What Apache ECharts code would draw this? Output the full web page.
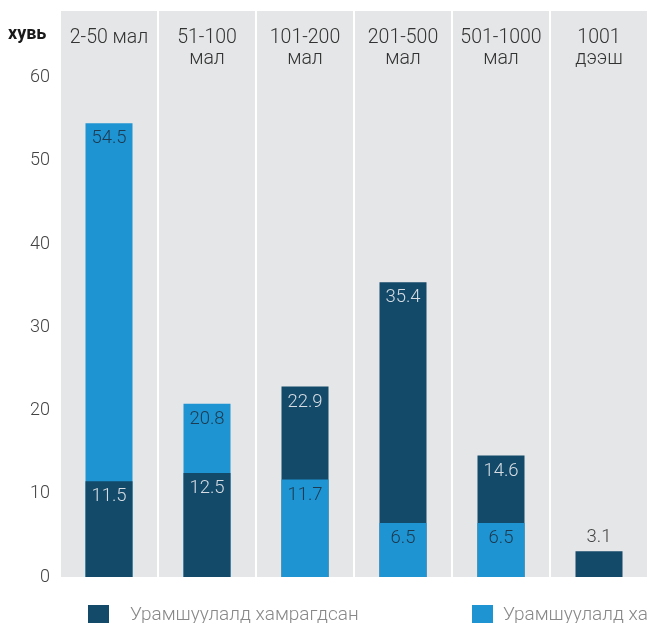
<!DOCTYPE html>
<html>
<head>
<meta charset="utf-8">
<script src="https://cdn.jsdelivr.net/npm/echarts@6/dist/echarts.min.js"></script>
<style>
html,body{margin:0;padding:0;background:#fff;}
#chart{width:648px;height:623px;}
</style>
</head>
<body>
<div id="chart"></div>
<script>
const categories = ['2-50 мал', '51-100\nмал', '101-200\nмал', '201-500\nмал', '501-1000\nмал', '1001\nдээш'];
const coveredName = 'Урамшуулалд хамрагдсан';
const notCoveredName = 'Урамшуулалд хамрагдаагүй';
const covered = [11.5, 12.5, 22.9, 35.4, 14.6, 3.1];
const notCovered = [54.5, 20.8, 11.7, 6.5, 6.5, null];
const yMin = 0, yMax = 68, yInterval = 10;

const DARK = '#134a6a';
const LIGHT = '#1e94d2';
const FONT = 'Roboto';

function mkItem(v, labelColor) {
  if (v === null || v === undefined) return '-';
  if (v < 5) {
    return { value: v, label: { position: 'top', color: '#444', distance: 4 } };
  }
  return { value: v, label: { color: labelColor } };
}

function split(own, other, back, labelColor) {
  return own.map((v, i) => {
    if (v === null) return '-';
    const o = other[i] === null ? 0 : other[i];
    const isBack = v >= o;
    return isBack === back ? mkItem(v, labelColor) : '-';
  });
}

function barSeries(name, color, data, labelColor) {
  return {
    name: name,
    type: 'bar',
    data: data,
    barWidth: 47,
    barGap: '-100%',
    itemStyle: { color: color },
    label: {
      show: true,
      position: 'insideTop',
      distance: 6,
      fontFamily: FONT,
      fontWeight: 300,
      fontSize: 18.5,
      color: labelColor
    },
    emphasis: { disabled: true }
  };
}

const chart = echarts.init(document.getElementById('chart'), null, { renderer: 'canvas' });
chart.setOption({
  animation: false,
  backgroundColor: '#ffffff',
  title: {
    text: 'хувь',
    left: 8,
    top: 25,
    padding: 0,
    textStyle: { fontFamily: FONT, fontWeight: 'bold', fontSize: 18, color: '#1a1a1a' }
  },
  grid: { left: 60, right: 0, top: 11, bottom: 46 },
  legend: [
    {
      data: [coveredName],
      left: 88, top: 605, padding: 0,
      icon: 'rect', itemWidth: 21, itemHeight: 21,
      selectedMode: false,
      textStyle: { fontFamily: FONT, fontWeight: 300, fontSize: 19, color: '#888', padding: [0, 0, 4, 16] }
    },
    {
      data: [notCoveredName],
      left: 472, top: 605, padding: 0,
      icon: 'rect', itemWidth: 21, itemHeight: 21,
      selectedMode: false,
      textStyle: { fontFamily: FONT, fontWeight: 300, fontSize: 19, color: '#888', padding: [0, 0, 4, 5] }
    }
  ],
  xAxis: {
    type: 'category',
    data: categories,
    position: 'top',
    axisLine: { show: false },
    axisTick: { show: false },
    axisLabel: {
      inside: true,
      margin: 17,
      fontFamily: FONT,
      fontWeight: 300,
      fontSize: 19.5,
      lineHeight: 21,
      color: '#333',
      interval: 0
    },
    splitArea: { show: true, areaStyle: { color: ['#e5e6e8'] } },
    splitLine: { show: true, lineStyle: { color: '#ffffff', width: 2 } }
  },
  yAxis: {
    type: 'value',
    min: yMin, max: yMax, interval: yInterval,
    axisLine: { show: false },
    axisTick: { show: false },
    splitLine: { show: false },
    axisLabel: {
      showMaxLabel: false,
      margin: 10,
      fontFamily: FONT,
      fontWeight: 300,
      fontSize: 18,
      color: '#444'
    }
  },
  series: [
    barSeries(coveredName, DARK, split(covered, notCovered, true, '#d6dce2'), '#d6dce2'),
    barSeries(notCoveredName, LIGHT, split(notCovered, covered, true, '#1d3a50'), '#1d3a50'),
    barSeries(coveredName, DARK, split(covered, notCovered, false, '#d6dce2'), '#d6dce2'),
    barSeries(notCoveredName, LIGHT, split(notCovered, covered, false, '#1d3a50'), '#1d3a50')
  ]
});
</script>
</body>
</html>
